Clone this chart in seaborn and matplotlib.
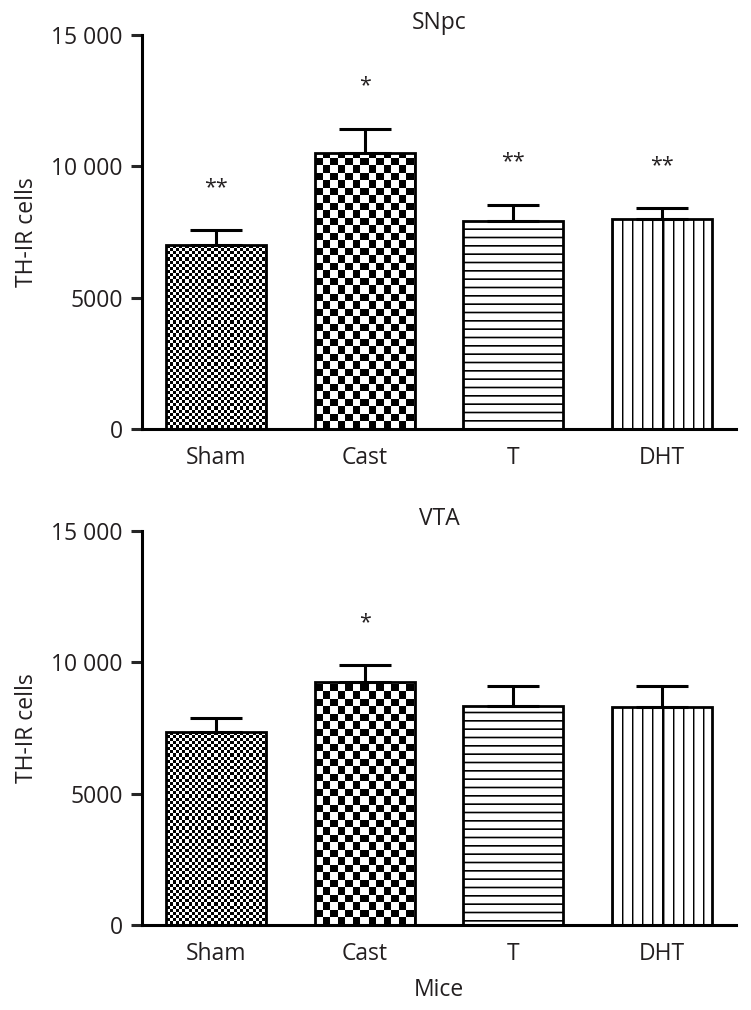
import numpy as np
import pandas as pd
import seaborn as sns
import matplotlib.pyplot as plt

# ------------------------
# Data
# ------------------------
GROUPS = ['Sham', 'Cast', 'T', 'DHT']
SNPC_MEAN = [7020, 10510, 7900, 8010]
SNPC_SEM = [550, 930, 640, 400]
SNPC_STARS = ['**', '*', '**', '**']
VTA_MEAN = [7350, 9260, 8340, 8300]
VTA_SEM = [520, 630, 760, 800]
VTA_STARS = ['', '*', '', '']
Y_TICKS = [0, 5000, 10000, 15000]
Y_TICK_LABELS = ['0', '5000', '10 000', '15 000']

# ------------------------
# Style
# ------------------------
sns.set_style('ticks')
plt.rcParams['font.family'] = ['Open Sans', 'DejaVu Sans']
plt.rcParams['hatch.linewidth'] = 1.2
plt.rcParams['hatch.color'] = 'black'
TEXT = '#231f20'
FS = 16.5
DPI = 100
FIG_W, FIG_H = 751, 1010

fig = plt.figure(figsize=(FIG_W / DPI, FIG_H / DPI), dpi=DPI)
# axes rectangles in pixels: left, top, right, bottom
rects = [(142, 35, 736, 429), (142, 531, 736, 925)]


def checker(cell):
    return lambda i, j: (np.floor(i / cell) + np.floor(j / cell)) % 2


def vlines(step):
    return lambda i, j: np.where(j % step < 1, 1.0, np.where(j % step < 2, 0.45, 0.0))


def pattern_fill(ax, patch, func):
    # pixel-level pattern image laid exactly over one bar
    x0, y0 = patch.get_x(), patch.get_y()
    x1, y1 = x0 + patch.get_width(), y0 + patch.get_height()
    (px0, py0), (px1, py1) = ax.transData.transform([(x0, y0), (x1, y1)])
    w, h = int(round(px1 - px0)), int(round(py1 - py0))
    i, j = np.indices((h, w))
    img = ax.imshow(func(i, j), cmap='gray_r', vmin=0, vmax=1, interpolation='nearest',
                    origin='lower', extent=[x0, x1, y0, y1], aspect='auto', zorder=1.5)
    img.set_clip_path(patch)
    patch.set_facecolor('none')


panels = [('SNpc', SNPC_MEAN, SNPC_SEM, SNPC_STARS), ('VTA', VTA_MEAN, VTA_SEM, VTA_STARS)]
for k, ((title, means, sems, stars), (l, t, r, b)) in enumerate(zip(panels, rects)):
    ax = fig.add_axes([l / FIG_W, 1 - b / FIG_H, (r - l) / FIG_W, (b - t) / FIG_H])
    df = pd.DataFrame({'group': GROUPS, 'cells': means})
    sns.barplot(data=df, x='group', y='cells', color='white', edgecolor='black',
                linewidth=2.0, width=0.675, errorbar=None, saturation=1, ax=ax)
    ax.set_ylim(0, 15000)
    ax.set_xlim(-0.5, 3.5)
    bars = ax.patches[:len(GROUPS)]
    xs = [p.get_x() + p.get_width() / 2 for p in bars]
    for p in bars:
        p.set_zorder(2)

    # fills
    pattern_fill(ax, bars[0], checker(3.15))
    pattern_fill(ax, bars[1], checker(7.5))
    bars[2].set_hatch('--')
    pattern_fill(ax, bars[3], vlines(10))
    ax.set_xlim(-0.5, 3.5)
    ax.set_ylim(0, 15000)

    # one-sided SEM
    ax.errorbar(xs, means, yerr=[np.zeros(len(sems)), sems], fmt='none', ecolor='black',
                elinewidth=2.2, capsize=18.6, capthick=2.2, zorder=3)
    for x, m, s, st in zip(xs, means, sems, stars):
        if st:
            ax.text(x, m + s + 1630, st, ha='center', va='center', fontsize=15.5, color=TEXT)

    ax.set_yticks(Y_TICKS)
    ax.set_yticklabels(Y_TICK_LABELS)
    ax.set_ylabel('TH-IR cells', fontsize=FS, color=TEXT)
    ax.yaxis.set_label_coords(-0.174, 0.5)
    ax.set_xlabel('Mice' if k == 1 else '', fontsize=FS, color=TEXT, labelpad=9)
    ax.set_title(title, fontsize=FS, color=TEXT, pad=2)
    ax.tick_params(axis='y', length=7.7, width=2.2, labelsize=FS, labelcolor=TEXT, pad=6)
    ax.tick_params(axis='x', length=0, labelsize=FS, labelcolor=TEXT, pad=12)
    sns.despine(ax=ax)
    for sp in ['left', 'bottom']:
        ax.spines[sp].set_linewidth(2.2)
        ax.spines[sp].set_color('black')

fig.savefig('out.png', dpi=DPI)
